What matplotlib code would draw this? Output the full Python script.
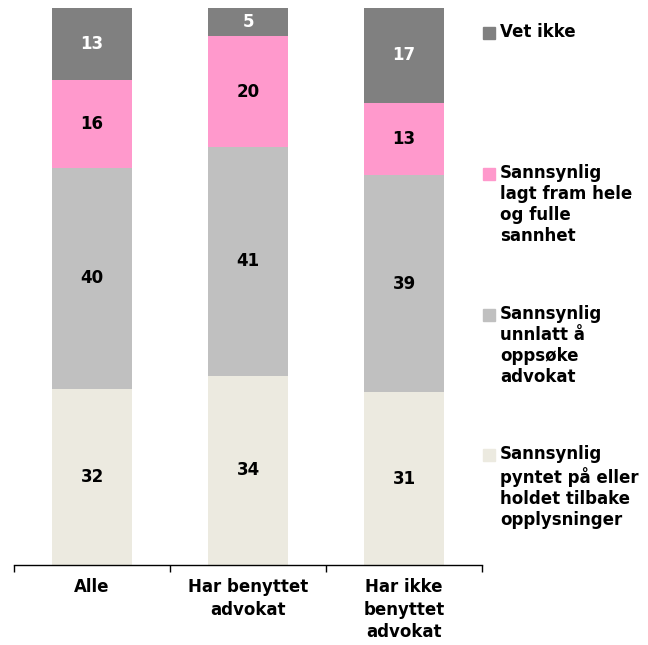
import numpy as np
import matplotlib.pyplot as plt
from matplotlib.patches import Rectangle

categories = ["Alle", "Har benyttet\nadvokat", "Har ikke\nbenyttet\nadvokat"]
series_names = ["Sannsynlig\npyntet på eller\nholdet tilbake\nopplysninger",
                "Sannsynlig\nunnlatt å\noppsøke\nadvokat",
                "Sannsynlig\nlagt fram hele\nog fulle\nsannhet",
                "Vet ikke"]
pyntet = [32, 34, 31]
unnlatt = [40, 41, 39]
sannhet = [16, 20, 13]
vet_ikke = [13, 5, 17]
colors = ["#ECEAE0", "#C0C0C0", "#FF99CC", "#808080"]
text_colors = ["black", "black", "black", "white"]

data = np.array([pyntet, unnlatt, sannhet, vet_ikke], dtype=float)
share = data / data.sum(axis=0) * 100

fig = plt.figure(figsize=(6.48, 6.45), dpi=100)
ax = fig.add_axes([14 / 648, 1 - 565 / 645, 468 / 648, 557 / 645])

x = np.arange(len(categories))
bottom = np.zeros(len(categories))
for i in range(len(data)):
    ax.bar(x, share[i], 0.51, bottom=bottom, color=colors[i], linewidth=0)
    for j in range(len(categories)):
        ax.text(x[j], bottom[j] + share[i][j] / 2, "%d" % data[i][j],
                ha="center", va="center", fontsize=12, fontweight="bold",
                color=text_colors[i])
    bottom += share[i]

ax.set_xlim(-0.5, 2.5)
ax.set_ylim(0, 100)
for s in ["top", "right", "left"]:
    ax.spines[s].set_visible(False)
ax.spines["bottom"].set_linewidth(1)
ax.set_yticks([])
ax.set_xticks([-0.5, 0.5, 1.5, 2.5])
ax.set_xticklabels([])
ax.tick_params(axis="x", direction="out", length=5, width=1)
for j, c in enumerate(categories):
    ax.text(x[j], -2.4, c, ha="center", va="top", fontsize=12,
            fontweight="bold", linespacing=1.3)

# legend on the right
leg_y = [455, 315, 174, 33]
for i in range(len(data)):
    y = 1 - leg_y[i] / 645
    fig.patches.append(Rectangle((483 / 648, y - 6 / 645), 12 / 648, 12 / 645,
                                 transform=fig.transFigure, color=colors[i]))
    fig.text(500 / 648, y + 10 / 645, series_names[i], ha="left", va="top",
             fontsize=12, fontweight="bold", linespacing=1.22)

plt.savefig("out.png", dpi=100)
